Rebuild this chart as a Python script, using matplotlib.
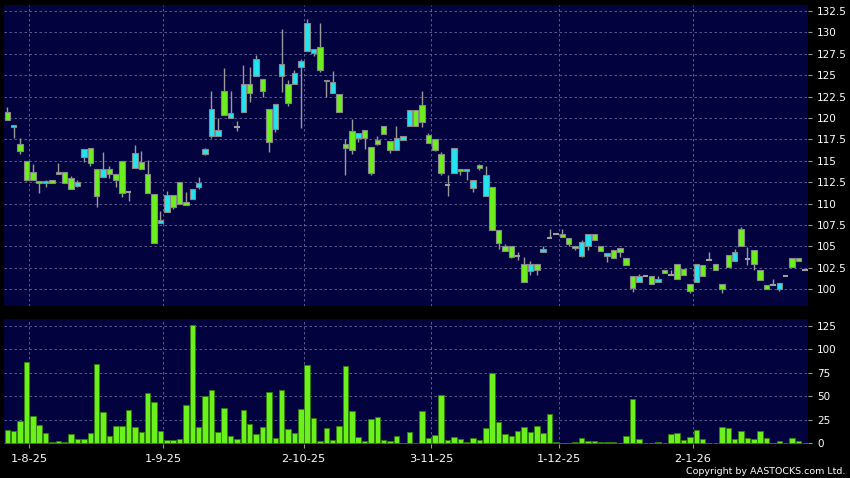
import numpy as np
import matplotlib.pyplot as plt

# Daily OHLC and volume, oldest first (one entry per trading day)
opens = [120.7, 118.9, 117.0, 115.0, 113.7, 112.6, 112.4, 112.8, 113.5, 113.7,
         113.0, 112.1, 115.4, 116.5, 114.0, 113.1, 114.1, 113.5, 115.0, 111.4,
         114.2, 114.9, 113.5, 111.1, 107.7, 109.0, 111.0, 112.5, 110.2, 110.6,
         112.0, 115.8, 117.9, 117.9, 123.2, 120.0, 119.0, 120.7, 124.0, 124.9,
         124.6, 121.1, 118.7, 124.9, 124.0, 124.0, 126.0, 127.8, 127.6, 128.3,
         124.5, 122.9, 122.8, 117.0, 118.5, 117.7, 118.6, 116.6, 117.4, 119.1,
         117.3, 116.3, 117.4, 119.1, 120.9, 121.5, 118.0, 117.5, 115.8, 112.2,
         113.6, 114.0, 113.8, 111.8, 114.5, 110.9, 112.0, 106.9, 105.1, 105.0,
         103.9, 103.0, 102.1, 103.0, 104.3, 106.0, 106.4, 106.5, 106.0, 105.1,
         103.9, 105.0, 106.4, 105.0, 103.9, 104.6, 104.8, 103.7, 101.6, 100.8,
         101.6, 101.5, 100.9, 102.2, 101.7, 102.9, 102.4, 100.6, 100.8, 102.8,
         103.4, 102.9, 100.6, 104.0, 103.3, 107.0, 103.5, 104.6, 102.2, 100.5,
         100.5, 100.0, 101.5, 103.6, 103.7, 102.3]
highs = [121.3, 119.2, 117.7, 115.0, 114.6, 112.6, 112.8, 112.8, 114.8, 113.7,
         113.2, 112.8, 116.4, 116.5, 114.0, 116.0, 114.4, 113.5, 115.0, 111.4,
         116.9, 116.2, 115.1, 111.1, 109.1, 111.5, 111.0, 112.5, 111.4, 111.7,
         113.1, 116.5, 123.2, 120.0, 125.9, 123.1, 119.7, 126.2, 126.0, 127.4,
         124.6, 121.1, 121.6, 130.4, 124.4, 125.6, 126.9, 131.6, 128.1, 131.1,
         124.5, 125.5, 122.8, 117.6, 119.9, 118.2, 118.6, 116.6, 117.9, 119.1,
         117.3, 119.1, 117.9, 120.9, 120.9, 123.1, 118.3, 117.5, 116.0, 113.4,
         116.5, 114.0, 114.1, 112.8, 114.6, 114.4, 112.0, 106.9, 105.3, 105.0,
         104.3, 103.8, 103.3, 103.0, 105.1, 107.0, 106.4, 107.0, 106.0, 105.1,
         105.7, 106.4, 106.4, 105.0, 104.2, 104.6, 104.8, 103.7, 101.6, 101.8,
         101.6, 101.5, 101.5, 102.2, 102.2, 102.9, 102.4, 100.6, 102.9, 102.8,
         104.3, 102.9, 100.6, 104.0, 104.7, 107.3, 104.9, 104.6, 102.2, 100.5,
         101.2, 100.7, 101.5, 103.6, 103.7, 102.3]
lows = [119.8, 117.7, 115.8, 112.6, 112.8, 111.3, 112.0, 112.4, 113.5, 112.4,
        111.7, 111.9, 114.9, 114.4, 109.6, 113.1, 113.0, 112.0, 110.8, 110.3,
        114.2, 114.1, 111.3, 105.4, 107.7, 109.0, 109.4, 110.0, 109.8, 110.6,
        111.7, 115.7, 117.7, 117.9, 120.3, 120.0, 118.5, 120.7, 121.9, 124.9,
        122.5, 116.0, 118.4, 123.0, 121.4, 124.0, 118.8, 127.8, 127.2, 125.4,
        122.4, 122.9, 120.7, 113.4, 115.8, 117.2, 116.4, 113.3, 116.8, 118.1,
        115.9, 116.3, 117.4, 119.1, 119.1, 119.0, 117.1, 116.1, 113.3, 110.9,
        113.6, 113.4, 112.8, 111.4, 113.9, 110.9, 106.9, 104.7, 104.5, 103.6,
        103.4, 100.8, 101.7, 101.7, 104.3, 106.0, 106.4, 106.1, 105.1, 104.6,
        103.8, 104.6, 105.7, 104.5, 103.2, 103.6, 103.8, 102.8, 99.7, 100.8,
        101.6, 100.6, 100.9, 101.9, 101.7, 101.2, 101.7, 99.6, 100.8, 101.6,
        103.4, 102.2, 99.6, 102.6, 103.3, 105.1, 102.8, 102.3, 101.1, 100.0,
        100.5, 99.8, 101.5, 102.6, 103.3, 102.3]
closes = [119.8, 119.2, 116.2, 112.8, 112.8, 112.4, 112.6, 112.4, 113.7, 112.4,
          111.7, 112.5, 116.4, 114.7, 110.9, 114.0, 113.5, 112.8, 111.2, 111.4,
          115.9, 114.1, 111.3, 105.4, 108.1, 111.0, 109.6, 110.0, 109.8, 111.7,
          112.4, 116.4, 121.1, 118.6, 120.3, 120.6, 119.0, 124.0, 122.9, 126.9,
          123.1, 117.2, 121.6, 126.3, 121.8, 125.3, 126.7, 131.1, 128.1, 125.6,
          124.3, 124.2, 120.7, 116.5, 116.3, 118.2, 117.7, 113.6, 117.0, 118.1,
          116.3, 117.7, 117.9, 120.9, 119.1, 119.5, 117.1, 116.3, 113.6, 112.2,
          116.5, 113.8, 114.1, 112.8, 114.2, 113.3, 106.9, 105.4, 104.5, 103.8,
          103.9, 100.8, 103.0, 102.2, 104.7, 106.0, 106.4, 106.1, 105.3, 104.8,
          105.5, 106.4, 105.7, 104.5, 104.2, 103.6, 104.3, 102.8, 100.1, 101.6,
          101.6, 100.6, 101.2, 101.9, 101.7, 101.2, 101.7, 99.8, 102.9, 101.6,
          103.4, 102.2, 100.0, 102.6, 104.3, 105.1, 103.5, 102.9, 101.1, 100.0,
          100.5, 100.7, 101.5, 102.6, 103.3, 102.3]
volumes = [14, 13, 24, 87, 29, 20, 11, 1, 2, 1,
           10, 5, 5, 11, 85, 33, 8, 19, 19, 35,
           17, 12, 54, 44, 13, 4, 4, 5, 41, 126,
           17, 50, 57, 12, 38, 8, 5, 36, 21, 10,
           17, 55, 6, 57, 15, 11, 37, 83, 27, 3,
           16, 4, 18, 82, 34, 7, 3, 26, 28, 4,
           2, 7.5, 0.4, 12, 0.7, 34, 5.6, 9, 51.5, 4,
           7, 5, 1.4, 5.6, 3.6, 16, 75, 23, 10, 8,
           13, 17, 12, 19, 11, 31, 1, 0.7, 0.7, 1.4,
           5.6, 2.5, 2.5, 1, 1, 1.7, 0.3, 8, 47.5, 5,
           0.2, 0.2, 1.7, 0.3, 9.6, 10.7, 3.9, 7, 14, 4.3,
           0.7, 0.7, 17, 16, 5, 13, 6, 4.6, 13, 6,
           0.3, 2.8, 0.3, 5.6, 2.1, 0.3]

# x-axis labels and the index of the trading day each one marks
date_labels = ['1-8-25', '1-9-25', '2-10-25', '3-11-25', '1-12-25', '2-1-26']
date_index = [4, 25, 47, 67, 87, 108]

price_ticks = np.arange(100, 133, 2.5)
vol_ticks = [0, 25, 50, 75, 100, 125]

# colours
NAVY = '#02023f'
GRID = '#6a6a9c'
UP = '#22e3f0'
DOWN = '#6cf01c'
EDGE = '#8a8a8a'

o = np.array(opens)
h = np.array(highs)
l = np.array(lows)
c = np.array(closes)
x = np.arange(len(o))
up = c > o
down = c < o
flat = c == o

fig = plt.figure(figsize=(8.5, 4.78), dpi=100, facecolor='black')
ax1 = fig.add_axes([4 / 850, 172 / 478, 804 / 850, 301 / 478])
ax2 = fig.add_axes([4 / 850, 34 / 478, 804 / 850, 125 / 478])

grid_x = np.array(date_index) - 0.55
for ax in (ax1, ax2):
    ax.set_facecolor(NAVY)
    for s in ax.spines.values():
        s.set_visible(False)
    ax.yaxis.tick_right()
    ax.set_xlim(-0.52, len(o) - 0.5)
    ax.set_xticks(grid_x)
    ax.grid(True, color=GRID, linestyle=(0, (3, 3)), linewidth=0.6)
    ax.set_axisbelow(True)
    ax.tick_params(axis='y', colors='#9a9a9a', labelcolor='white',
                   labelsize=7.5, length=3, width=0.8, pad=3.4)

# price panel
ax1.vlines(x, l, h, color='#9a9a9a', linewidth=1, zorder=2)
ax1.bar(x[up], (c - o)[up], bottom=o[up], width=0.86, color=UP,
        edgecolor=EDGE, linewidth=0.8, zorder=3)
ax1.bar(x[down], (o - c)[down], bottom=c[down], width=0.86, color=DOWN,
        edgecolor=EDGE, linewidth=0.8, zorder=3)
ax1.hlines(o[flat], x[flat] - 0.43, x[flat] + 0.43, color='#a0a0a0',
           linewidth=1.5, zorder=3)
ax1.set_ylim(98.05, 133.2)
ax1.set_yticks(price_ticks)
ax1.set_yticklabels(['%g' % v for v in price_ticks])
ax1.tick_params(axis='x', length=0, labelbottom=False)

# volume panel
ax2.bar(x, volumes, width=0.86, color=DOWN, edgecolor='#2e7d0a',
        linewidth=0.6, zorder=3)
ax2.set_ylim(-0.7, 132.5)
ax2.set_yticks(vol_ticks)
ax2.set_xticklabels(date_labels)
ax2.tick_params(axis='x', colors='#9a9a9a', labelcolor='white',
                labelsize=8.2, length=3, width=0.8, pad=4)

fig.text(845 / 850, 1 - 472 / 478, 'Copyright by AASTOCKS.com Ltd.',
         color='white', fontsize=6.8, ha='right', va='center')

plt.savefig('out.png', dpi=100, facecolor='black')
